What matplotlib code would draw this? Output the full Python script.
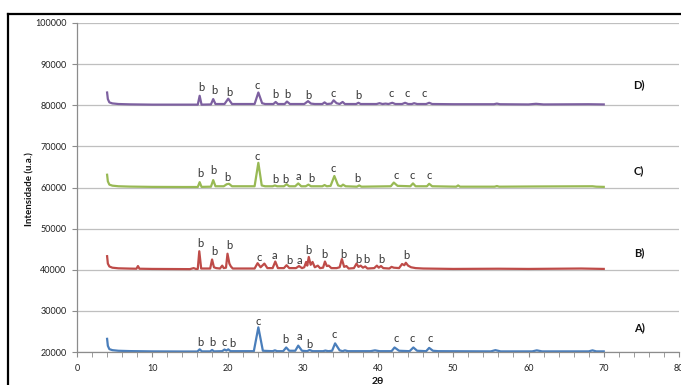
import matplotlib
matplotlib.use("Agg")
import matplotlib.pyplot as plt
from matplotlib.lines import Line2D
from matplotlib.ticker import MultipleLocator

plt.rcParams['font.family'] = ['Lato', 'DejaVu Sans']

# ---------------- data (2θ, intensity) ----------------
a_theta = [4.0, 4.1, 4.3, 4.7, 5.5, 7, 10, 14, 16.0, 16.3, 16.6, 17.7, 17.95, 18.2, 19.3, 19.6, 19.85,
           20.1, 20.4, 23.5, 24.1, 24.7, 26.0, 26.3, 26.6, 27.4, 27.8, 28.2, 29.0, 29.4, 29.9, 30.6,
           30.9, 31.3, 32.7, 33.0, 33.4, 33.9, 34.3, 34.9, 35.3, 35.6, 36.0, 39.0, 39.6, 40.2, 41.8,
           42.2, 42.8, 44.2, 44.7, 45.2, 46.4, 46.8, 47.3, 48.0, 55.0, 55.6, 56.3, 60.5, 61.1, 61.8,
           68.0, 68.5, 69.0, 70.0]
a_int = [23200, 21500, 20700, 20450, 20300, 20220, 20150, 20120, 20120, 20650, 20150, 20150, 20500,
         20150, 20200, 20600, 20350, 20650, 20200, 20200, 26000, 20300, 20200, 20400, 20200, 20200,
         21100, 20300, 20300, 21550, 20300, 20200, 20500, 20200, 20200, 20350, 20200, 20300, 22100,
         20400, 20200, 20400, 20200, 20200, 20400, 20200, 20200, 21100, 20300, 20200, 21100, 20300,
         20200, 21000, 20300, 20200, 20150, 20450, 20150, 20150, 20400, 20150, 20150, 20400, 20150,
         20150]

b_theta = [4.0, 4.1, 4.3, 4.7, 5.5, 7, 7.9, 8.1, 8.3, 10, 15.0, 15.5, 15.8, 16.05, 16.25, 16.5, 17.7,
           17.95, 18.2, 18.5, 19.0, 19.3, 19.5, 19.8, 20.0, 20.25, 20.45, 20.7, 21.5, 23.6, 24.0, 24.4,
           24.9, 25.3, 26.0, 26.35, 26.7, 27.5, 27.85, 28.2, 29.1, 29.5, 29.9, 30.2, 30.45, 30.6, 30.8,
           31.05, 31.3, 31.6, 32.0, 32.3, 32.7, 32.95, 33.2, 33.45, 33.8, 34.5, 34.9, 35.2, 35.5, 35.8,
           36.1, 36.8, 37.15, 37.4, 37.7, 38.0, 38.3, 38.6, 39.5, 39.85, 40.1, 40.4, 40.7, 41.5, 41.8,
           42.1, 42.8, 43.2, 43.5, 43.7, 44.0, 44.4, 45.0, 46.0, 50.0, 56.0, 60.0, 67.0, 70.0]
b_int = [43300, 41500, 40800, 40500, 40350, 40280, 40250, 40900, 40250, 40200, 40150, 40400, 40200,
         40200, 44500, 40300, 40300, 42500, 40600, 40400, 40300, 41000, 40400, 40500, 43900, 41500,
         40800, 40300, 40300, 40300, 41600, 40600, 41500, 40400, 40400, 42000, 40400, 40400, 41100,
         40400, 40400, 40900, 40400, 40600, 41900, 41000, 43100, 41200, 41900, 40600, 41000, 40400,
         40500, 42000, 40900, 41000, 40400, 40400, 40600, 42600, 40700, 40900, 40300, 40400, 41500,
         40700, 41000, 40500, 40800, 40300, 40400, 41000, 40500, 40900, 40400, 40300, 40700, 40500,
         40400, 41400, 41100, 41700, 41000, 40600, 40400, 40300, 40200, 40250, 40200, 40300, 40200]

c_theta = [4.0, 4.1, 4.3, 4.7, 5.5, 7, 10, 14, 16.05, 16.3, 16.55, 17.8, 18.1, 18.4, 19.5, 19.9, 20.2,
           20.6, 23.6, 24.1, 24.55, 25.0, 26.0, 26.3, 26.6, 27.5, 27.85, 28.2, 29.0, 29.4, 29.8, 30.4,
           30.75, 31.1, 32.6, 32.9, 33.2, 33.7, 34.2, 34.7, 35.1, 35.35, 35.7, 37.2, 37.5, 37.8, 41.7,
           42.1, 42.6, 44.3, 44.65, 45.0, 46.5, 46.8, 47.2, 50.4, 50.65, 50.9, 55.5, 55.8, 56.1, 61.0,
           68.5, 69.0, 70.0]
c_int = [63100, 61500, 60700, 60450, 60300, 60220, 60150, 60120, 60120, 61300, 60150, 60200, 61800,
         60300, 60300, 60800, 60900, 60300, 60300, 66000, 60500, 60300, 60300, 60500, 60300, 60300,
         60800, 60300, 60300, 61000, 60300, 60300, 60700, 60300, 60300, 60600, 60300, 60400, 62800,
         60500, 60300, 60700, 60300, 60200, 60500, 60200, 60300, 61200, 60400, 60300, 61000, 60300,
         60300, 60900, 60300, 60200, 60500, 60200, 60200, 60350, 60200, 60250, 60300, 60200, 60150]

d_theta = [4.0, 4.1, 4.3, 4.7, 5.5, 7, 10, 16.05, 16.3, 16.55, 17.8, 18.1, 18.4, 19.6, 20.1, 20.6, 23.6,
           24.1, 24.6, 25.0, 26.1, 26.4, 26.7, 27.6, 27.9, 28.3, 30.2, 30.7, 31.1, 31.6, 32.6, 32.9,
           33.2, 33.8, 34.1, 34.5, 34.9, 35.3, 35.6, 37.1, 37.4, 37.7, 39.8, 40.2, 40.6, 41.0, 41.4,
           41.9, 42.3, 43.2, 43.6, 44.0, 44.5, 44.8, 45.2, 46.4, 46.8, 47.2, 50.0, 55.4, 55.8, 56.2,
           60.0, 61.0, 62.0, 68.0, 70.0]
d_int = [83100, 81500, 80700, 80450, 80300, 80220, 80150, 80150, 82300, 80150, 80200, 81500, 80300,
         80300, 81600, 80300, 80300, 83100, 80500, 80300, 80300, 80800, 80300, 80300, 80900, 80300,
         80300, 81000, 80400, 80300, 80300, 80700, 80300, 80400, 81200, 80500, 80300, 80800, 80300,
         80300, 80600, 80300, 80300, 80500, 80300, 80400, 80300, 80600, 80300, 80300, 80600, 80300,
         80300, 80500, 80300, 80300, 80600, 80300, 80250, 80250, 80400, 80250, 80200, 80350, 80200,
         80250, 80200]

# phase labels: (2θ, baseline intensity, letter)
a_labels = [(16.4, 21400, 'b'), (18.0, 21400, 'b'), (19.5, 21400, 'c'), (20.6, 21200, 'b'),
            (24.1, 26650, 'c'), (27.7, 22250, 'b'), (29.5, 23000, 'a'), (30.9, 21000, 'b'),
            (34.2, 23400, 'c'), (42.4, 22500, 'c'), (44.6, 22500, 'c'), (46.9, 22500, 'c')]
b_labels = [(16.4, 45500, 'b'), (18.2, 43480, 'b'), (20.3, 44940, 'b'), (24.2, 42210, 'c'),
            (26.2, 42700, 'a'), (28.2, 41460, 'b'), (29.5, 41410, 'a'), (30.7, 43890, 'b'),
            (32.9, 42750, 'b'), (35.4, 42920, 'b'), (37.4, 41700, 'b'), (38.5, 41700, 'b'),
            (40.4, 41700, 'b'), (43.8, 42500, 'b')]
c_labels = [(16.4, 62530, 'b'), (18.1, 63190, 'b'), (20.0, 61560, 'b'), (24.0, 66790, 'c'),
            (26.3, 61070, 'b'), (27.7, 61070, 'b'), (29.4, 61850, 'a'), (31.2, 61310, 'b'),
            (34.0, 63720, 'c'), (37.3, 61310, 'b'), (42.4, 62160, 'c'), (44.6, 62160, 'c'),
            (46.8, 62160, 'c')]
d_labels = [(16.5, 83450, 'b'), (18.3, 82650, 'b'), (20.2, 82160, 'b'), (24.0, 83990, 'c'),
            (26.4, 81680, 'b'), (27.9, 81680, 'b'), (30.7, 81430, 'b'), (34.1, 82040, 'c'),
            (37.4, 81430, 'b'), (41.8, 82040, 'c'), (43.9, 82040, 'c'), (46.2, 82040, 'c')]

series_names = ['A)', 'B)', 'C)', 'D)']
series_name_y = [25840, 44090, 64060, 84980]
series_colors = ['#4A7EBB', '#BE4B48', '#98B954', '#7D60A0']

y_ticks = [20000, 30000, 40000, 50000, 60000, 70000, 80000, 90000, 100000]
x_ticks = [0, 10, 20, 30, 40, 50, 60, 70, 80]

# ---------------- figure ----------------
fig = plt.figure(figsize=(6.81, 3.85), dpi=100)
ax = fig.add_axes([77 / 681, 1 - 352 / 385, (679 - 77) / 681, (352 - 23) / 385])

ax.set_xlim(0, 80)
ax.set_ylim(20000, 100000)
ax.set_yticks(y_ticks)
ax.set_xticks(x_ticks)
ax.xaxis.set_minor_locator(MultipleLocator(2))
ax.grid(axis='y', color='#BFBFBF', lw=0.9)
ax.set_axisbelow(True)
for s in ['top', 'right']:
    ax.spines[s].set_visible(False)
for s in ['left', 'bottom']:
    ax.spines[s].set_color('#8C8C8C')
    ax.spines[s].set_linewidth(0.9)
ax.tick_params(axis='both', which='both', color='#8C8C8C', direction='out', labelsize=6.5,
               labelcolor='#222222')
ax.tick_params(axis='x', which='both', length=3.5, pad=5)
ax.tick_params(axis='y', length=3.5, pad=4)

datasets = [(a_theta, a_int, a_labels), (b_theta, b_int, b_labels),
            (c_theta, c_int, c_labels), (d_theta, d_int, d_labels)]
for (th, it, labs), col, name, ny in zip(datasets, series_colors, series_names, series_name_y):
    ax.plot(th, it, color=col, lw=1.6, solid_joinstyle='round')
    for x, y, t in labs:
        ax.text(x, y, t, ha='center', va='baseline', fontsize=8, color='#333333')
    ax.text(74.7, ny, name, ha='center', va='center', fontsize=8, fontweight='bold', color='#111111')

fig.text(30 / 681, 1 - 189 / 385, 'Intensidade (u.a.)', rotation=90, ha='center', va='center',
         fontsize=7, fontweight='bold', color='#111111')
fig.text(378 / 681, 1 - 382 / 385, '2θ', ha='center', va='center', fontsize=7.5,
         fontweight='bold', color='#111111')

# outer frame (only top and left visible in the crop)
fig.add_artist(Line2D([8 / 681, 1.0], [1 - 14 / 385, 1 - 14 / 385], transform=fig.transFigure,
                      color='black', lw=1.6))
fig.add_artist(Line2D([8 / 681, 8 / 681], [1 - 14 / 385, 0.0], transform=fig.transFigure,
                      color='black', lw=1.6))

fig.savefig('out.png', dpi=100)
